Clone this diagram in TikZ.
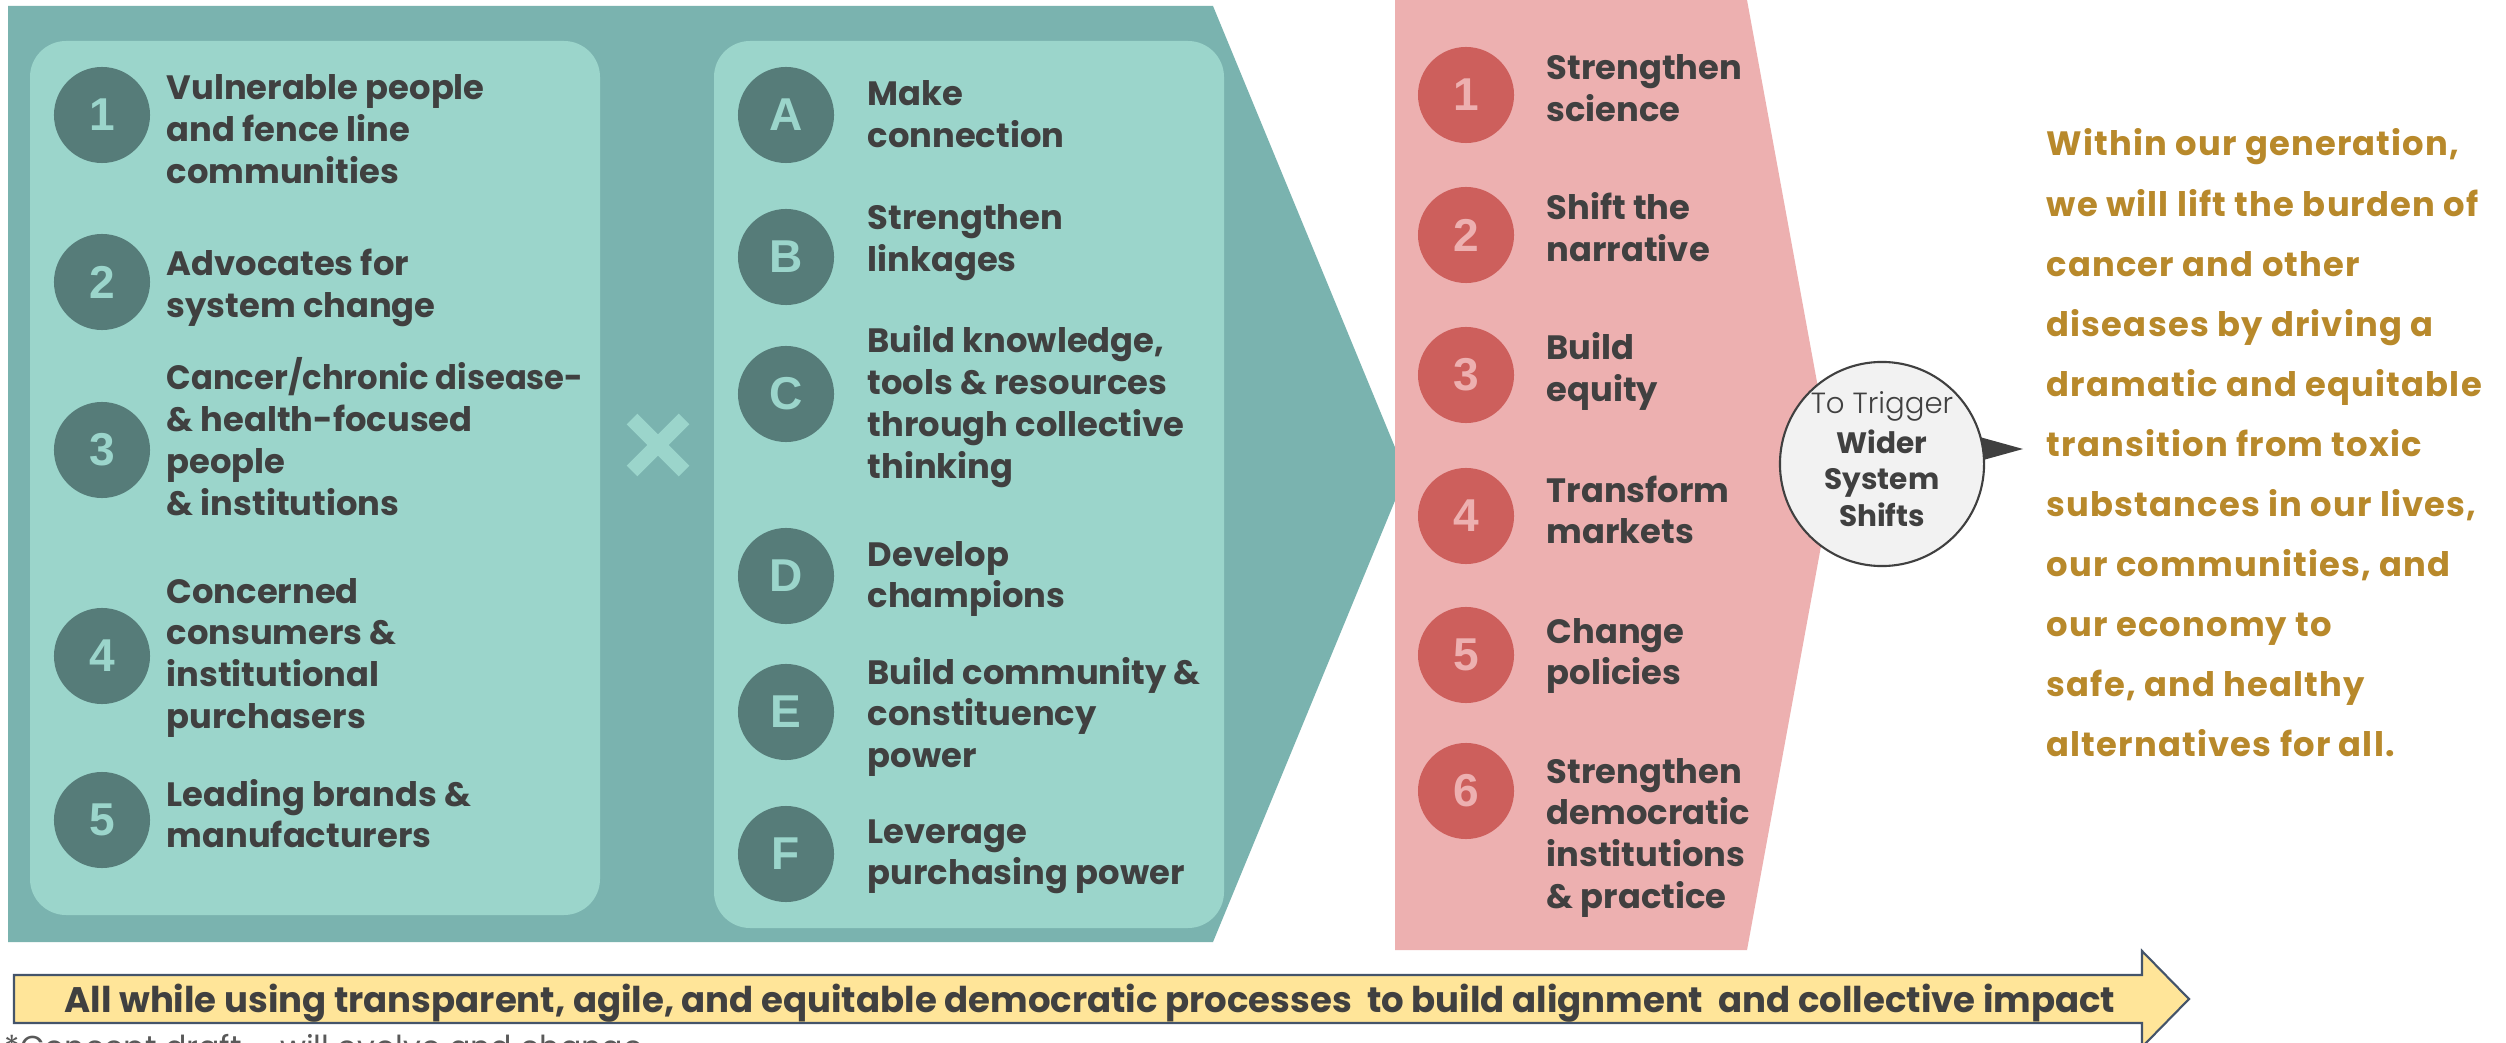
\documentclass[tikz,border=0pt]{standalone}
\usepackage{fontspec}
\setmainfont{Poppins}
\newfontfamily\lightfam{Poppins Light}
\newfontfamily\numfam{Liberation Sans}
\definecolor{outerteal}{HTML}{7AB3AF}
\definecolor{lightteal}{HTML}{9BD5CB}
\definecolor{darkteal}{HTML}{567C79}
\definecolor{pinkbg}{HTML}{EDB0B0}
\definecolor{redc}{HTML}{CD5F5C}
\definecolor{txt}{HTML}{404040}
\definecolor{gold}{HTML}{B8892B}
\definecolor{yel}{HTML}{FFE599}
\definecolor{yelb}{HTML}{44546A}
\definecolor{bubble}{HTML}{F2F2F2}
\definecolor{foot}{HTML}{595959}
\newcommand\ml[1]{\vtop{\halign{##\hfil\cr#1\crcr}}}
\newcommand\mc[1]{\vtop{\halign{\hfil##\hfil\cr#1\crcr}}}
\newcommand\itemfont{\fontsize{9.6pt}{11.86pt}\selectfont\bfseries}
\newcommand\numfont{\numfam\bfseries\fontsize{13.1pt}{13.1pt}\selectfont}
\newcommand\goldfont{\fontsize{9.6pt}{17.07pt}\selectfont\bfseries\addfontfeatures{LetterSpace=3.5}}
\begin{document}
\begin{tikzpicture}[x=0.01cm,y=-0.01cm,
  lbl/.style={anchor=base west, inner sep=0, text=txt, font=\itemfont},
  tcirc/.style={circle, fill=darkteal, minimum size=0.96cm, inner sep=0, text=lightteal, font=\numfont},
  rcirc/.style={circle, fill=redc, minimum size=0.96cm, inner sep=0, text=pinkbg, font=\numfont},
  box/.style={fill=lightteal, rounded corners=0.36cm}]
\useasboundingbox (0,0) rectangle (2506,1043);
\fill[white] (0,0) rectangle (2506,1043);
% teal chevron
\fill[outerteal] (8,6) -- (1213,6) -- (1406,474) -- (1213,942) -- (8,942) -- cycle;
\fill[box] (30,41) rectangle (600,915);
\fill[box] (714,41) rectangle (1224,928);
\draw[lightteal, line width=0.15cm] (632,419) -- (684,471) (684,419) -- (632,471);
% pink chevron
\fill[pinkbg] (1395,0) -- (1747,0) -- (1834,475) -- (1747,950) -- (1395,950) -- cycle;
% left list
\node[tcirc] (c1) at (102,115) {1};
\node[tcirc] (c2) at (102,282) {2};
\node[tcirc] (c3) at (102,450) {3};
\node[tcirc] (c4) at (102,656) {4};
\node[tcirc] (c5) at (102,820) {5};
\node[lbl] (t1) at (166,100) {\ml{Vulnerable people\cr and fence line\cr communities}};
\node[lbl] (t2) at (166,276) {\ml{Advocates for\cr system change}};
\node[lbl] (t3) at (166,390) {\ml{\scalebox{0.955}[1]{Cancer/chronic disease-}\cr \& health-focused\cr people\cr \& institutions}};
\node[lbl] (t4) at (166,603) {\ml{Concerned\cr consumers \&\cr institutional\cr purchasers}};
\node[lbl] (t5) at (166,806) {\ml{Leading brands \&\cr manufacturers}};
% A-F list
\node[tcirc] (cA) at (786,115) {A};
\node[tcirc] (cB) at (786,257) {B};
\node[tcirc] (cC) at (786,394) {C};
\node[tcirc] (cD) at (786,576) {D};
\node[tcirc] (cE) at (786,712) {E};
\node[tcirc] (cF) at (786,854) {F};
\node[lbl] (tA) at (867,106) {\ml{Make\cr connection}};
\node[lbl] (tB) at (867,230) {\ml{Strengthen\cr linkages}};
\node[lbl] (tC) at (867,353) {\ml{Build knowledge,\cr tools \& resources\cr through collective\cr thinking}};
\node[lbl] (tD) at (867,566) {\ml{Develop\cr champions}};
\node[lbl] (tE) at (867,684) {\ml{Build community \&\cr constituency\cr power}};
\node[lbl] (tF) at (867,843) {\ml{Leverage\cr purchasing power}};
% pink list
\node[rcirc] (r1) at (1466,95) {1};
\node[rcirc] (r2) at (1466,235) {2};
\node[rcirc] (r3) at (1466,375) {3};
\node[rcirc] (r4) at (1466,516) {4};
\node[rcirc] (r5) at (1466,655) {5};
\node[rcirc] (r6) at (1466,791) {6};
\node[lbl] (s1) at (1546,80) {\ml{Strengthen\cr science}};
\node[lbl] (s2) at (1546,220) {\ml{Shift the\cr narrative}};
\node[lbl] (s3) at (1546,360) {\ml{Build\cr equity}};
\node[lbl] (s4) at (1546,502) {\ml{Transform\cr markets}};
\node[lbl] (s5) at (1546,643) {\ml{Change\cr policies}};
\node[lbl] (s6) at (1546,783) {\ml{Strengthen\cr democratic\cr institutions\cr \& practice}};
% bubble
\fill[txt] (1976,436) -- (2023,449) -- (1976,462) -- cycle;
\node[circle, fill=bubble, draw=txt, line width=0.6pt, minimum size=2.04cm, inner sep=0] (bub) at (1882,464) {};
\node[anchor=base, inner sep=0, text=txt, font=\lightfam\fontsize{8.3pt}{10pt}\selectfont] (trig) at (1882,413) {To Trigger};
\node[anchor=base, inner sep=0, text=txt, font=\fontsize{8.4pt}{10.5pt}\selectfont\bfseries] (wss) at (1882,453) {\mc{Wider\cr System\cr Shifts}};
% gold statement
\node[anchor=base west, inner sep=0, text=gold, font=\goldfont] (goal) at (2046,156) {\ml{Within our generation,\cr we will lift the burden of\cr cancer and other\cr diseases by driving a\cr dramatic and equitable\cr transition from toxic\cr substances in our lives,\cr our communities, and\cr our economy to\cr safe, and healthy\cr alternatives for all.}};
% bottom arrow
\draw[fill=yel, draw=yelb, line width=0.6pt] (14,975) -- (2142,975) -- (2142,951) -- (2189,999) -- (2142,1047) -- (2142,1023) -- (14,1023) -- cycle;
\node[anchor=base, inner sep=0, text=txt, font=\fontsize{10.1pt}{11pt}\selectfont\bfseries] (bar) at (1090,1012) {All while using transparent, agile, and equitable democratic processes\ \ to build alignment\ \ and collective impact};
\node[anchor=base west, inner sep=0, text=foot, font=\fontsize{9pt}{11pt}\selectfont] (fn) at (4,1058) {*Concept draft -- will evolve and change};
\end{tikzpicture}
\end{document}
